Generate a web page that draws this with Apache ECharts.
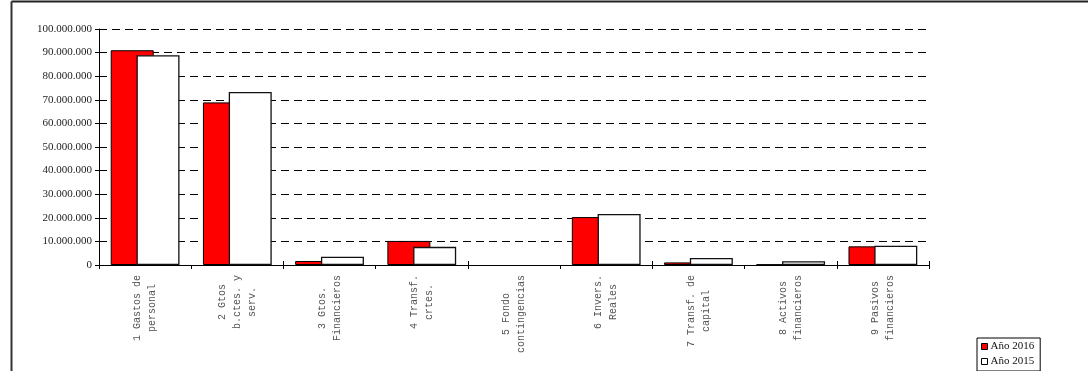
<!DOCTYPE html>
<html>
<head>
<meta charset="utf-8">
<script src="https://cdn.jsdelivr.net/npm/echarts@6/dist/echarts.min.js"></script>
<style>
  html, body { margin: 0; padding: 0; background: #fff; }
  #chart { width: 1088px; height: 371px; }
</style>
</head>
<body>
<div id="chart"></div>
<script>
// Budget chapters (expenditure), two consecutive years
const categories = [
  '1 Gastos de\npersonal',
  '2 Gtos\nb.ctes. y\nserv.',
  '3 Gtos.\nFinancieros',
  '4 Transf.\ncrtes.',
  '5 Fondo\ncontingencias',
  '6 Invers.\nReales',
  '7 Transf. de\ncapital',
  '8 Activos\nfinancieros',
  '9 Pasivos\nfinancieros'
];
const seriesNames = ['Año 2016', 'Año 2015'];
const values2016 = [91000000, 68900000, 1700000, 10200000, 0, 20300000, 1100000, 200000, 7900000];
const values2015 = [88900000, 73300000, 3500000, 7700000, 0, 21600000, 3000000, 1600000, 8200000];
const yTicks = [0, 10000000, 20000000, 30000000, 40000000, 50000000, 60000000, 70000000, 80000000, 90000000, 100000000];

const MONO = '"Liberation Mono", "DejaVu Sans Mono", monospace';
const SERIF = '"Liberation Serif", "DejaVu Serif", serif';
const CHAR_W = 6.0;

// one rich style per line-width so every wrapped label is centred on its longest line
const rich = {};
categories.forEach(c => {
  const n = Math.max(...c.split('\n').map(s => s.length));
  rich['w' + n] = { width: n * CHAR_W, align: 'center', fontFamily: MONO, fontSize: 10, color: '#555', lineHeight: 15 };
});

function thousands(v) {
  return String(Math.round(v)).replace(/\B(?=(\d{3})+(?!\d))/g, '.');
}

// empty chapters get no outline, so nothing is drawn for them
function barData(values) {
  return values.map(v => v === 0 ? { value: v, itemStyle: { borderWidth: 0, opacity: 0 } } : v);
}

const chart = echarts.init(document.getElementById('chart'), null, { renderer: 'canvas' });
chart.setOption({
  animation: false,
  backgroundColor: '#fff',
  grid: { left: 99, right: 159, top: 29, bottom: 106, containLabel: false },
  legend: {
    orient: 'vertical',
    left: 977, top: 338,
    itemWidth: 6, itemHeight: 6,
    itemGap: 4,
    padding: [3, 6, 4, 4],
    borderColor: '#000', borderWidth: 1,
    textStyle: { fontFamily: SERIF, fontSize: 11, color: '#111', padding: [0, 0, 0, -2] },
    data: [
      { name: seriesNames[0], icon: 'rect', itemStyle: { color: '#ff0000', borderColor: '#000', borderWidth: 1 } },
      { name: seriesNames[1], icon: 'rect', itemStyle: { color: '#ffffff', borderColor: '#000', borderWidth: 1 } }
    ]
  },
  xAxis: [
    {
      type: 'category',
      data: categories,
      boundaryGap: true,
      axisLine: { lineStyle: { color: '#000', width: 1 } },
      axisTick: { show: true, length: 4, lineStyle: { color: '#000' } },
      axisLabel: {
        interval: 0,
        rotate: 90,
        margin: 10,
        formatter: function (v) {
          const lines = v.split('\n');
          const n = Math.max(...lines.map(s => s.length));
          return lines.map(s => '{w' + n + '|' + s + '}').join('\n');
        },
        rich: rich
      },
      splitLine: { show: false }
    },
    {
      // inner half of the crossing tick marks
      type: 'category',
      data: categories,
      position: 'bottom',
      boundaryGap: true,
      axisLine: { show: false },
      axisTick: { show: true, inside: true, length: 4, lineStyle: { color: '#000' } },
      axisLabel: { show: false },
      splitLine: { show: false }
    }
  ],
  yAxis: {
    type: 'value',
    min: yTicks[0],
    max: yTicks[yTicks.length - 1],
    interval: yTicks[1] - yTicks[0],
    axisLine: { show: true, lineStyle: { color: '#000', width: 1 } },
    axisTick: { show: true, length: 4, lineStyle: { color: '#000' } },
    axisLabel: {
      margin: 7,
      fontFamily: SERIF,
      fontSize: 11,
      color: '#222',
      formatter: thousands
    },
    splitLine: { show: true, lineStyle: { color: '#000', width: 1, type: [8, 5] } }
  },
  series: [
    {
      name: seriesNames[0],
      type: 'bar',
      data: barData(values2016),
      barWidth: 43,
      barGap: '-40%',
      itemStyle: { color: '#ff0000', borderColor: '#000', borderWidth: 1 }
    },
    {
      name: seriesNames[1],
      type: 'bar',
      data: barData(values2015),
      barWidth: 43,
      barGap: '-40%',
      itemStyle: { color: '#ffffff', borderColor: '#111', borderWidth: 1.3 }
    }
  ],
  graphic: [
    { type: 'line', shape: { x1: 11.5, y1: 1.5, x2: 1088, y2: 1.5 }, style: { stroke: '#222', lineWidth: 2 } },
    { type: 'line', shape: { x1: 11.5, y1: 1.5, x2: 11.5, y2: 371 }, style: { stroke: '#333', lineWidth: 2 } }
  ]
});
</script>
</body>
</html>
